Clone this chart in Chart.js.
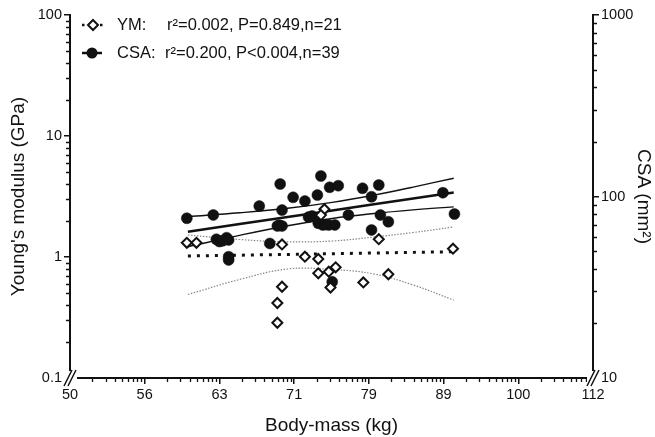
<!DOCTYPE html>
<html>
<head>
<meta charset="utf-8">
<script src="https://cdn.jsdelivr.net/npm/chart.js@4"></script>
<style>
  html, body { margin: 0; padding: 0; background: #fff; }
  canvas { display: block; }
</style>
</head>
<body>
<canvas id="chart" width="655" height="437"></canvas>
<script>
// axis ticks (body mass axis is log2, 1/6 octave per step)
const xTicks = [50, 56.12, 63, 70.71, 79.37, 89.09, 100, 112.25];
const xTickLabels = ['50', '56', '63', '71', '79', '89', '100', '112'];
const ymTicks = [0.1, 1, 10, 100];
const csaTicks = [10, 100, 1000];

// Young's modulus points (open diamonds)
const ymMass = [59.9, 60.8, 69.4, 68.9, 68.9, 69.4, 71.9, 73.4, 73.4, 74.6, 75.4, 74.8, 74.1, 73.7, 78.7, 80.6, 81.8, 90.4];
const ymValues = [1.31, 1.31, 1.27, 0.417, 0.286, 0.568, 1.006, 0.963, 0.733, 0.756, 0.822, 0.56, 2.48, 2.22, 0.616, 1.403, 0.72, 1.171];

// CSA points (filled circles)
const csaMass = [59.9, 62.4, 67.0, 62.7, 63.0, 63.7, 63.9, 63.9, 63.9, 68.1, 69.2, 69.4, 68.9, 69.4, 70.6, 71.9, 73.3, 73.7, 72.7, 73.4,
                 73.9, 74.6, 75.3, 74.7, 75.7, 75.0, 76.9, 78.6, 79.7, 80.6, 80.8, 81.8, 79.7, 89.0, 90.6, 63.3, 74.2, 69.1, 72.3];
const csaValues = [75.9, 79.1, 88.6, 58.1, 56.5, 59.3, 57.6, 46.6, 44.7, 55.1, 117.2, 84.2, 68.8, 68.8, 99.0, 94.4, 101.9, 129.7, 78.1, 71.2,
                   69.7, 69.7, 69.7, 112.4, 114.7, 33.9, 79.1, 111.0, 99.7, 115.7, 79.1, 72.6, 65.4, 104.9, 80.1, 57.0, 70.0, 69.5, 77.0];

// regression lines with 95% bands
const fitMass = [60, 65, 70, 75, 80, 85, 90.5];
const csaFit = [63.9, 70.5, 77.1, 83.8, 90.6, 97.5, 105.2];
const csaUpper = [77.4, 81.3, 86.1, 92.8, 101.8, 112.7, 126.1];
const csaLower = [52.9, 61.1, 69.0, 75.7, 80.6, 84.4, 87.7];
const ymFit = [1.02, 1.035, 1.05, 1.065, 1.079, 1.092, 1.105];
const ymUpper = [1.52, 1.395, 1.335, 1.356, 1.463, 1.594, 1.77];
const ymLower = [0.49, 0.652, 0.796, 0.788, 0.724, 0.587, 0.44];

const FONT = "'Liberation Sans', Arial, sans-serif";
const INK = '#111';

const pairs = (xs, ys) => xs.map((x, i) => ({ x: x, y: ys[i] }));

function lineSet(values, axis, style) {
    return Object.assign({
        type: 'scatter',
        data: pairs(fitMass, values),
        yAxisID: axis,
        showLine: true,
        pointRadius: 0,
        borderColor: INK,
        fill: false,
        tension: 0.4
    }, style);
}

// short log-style ticks between the labelled ones
const minorTicks = {
    id: 'minorTicks',
    afterDraw(chart) {
        const { ctx } = chart;
        const { x, y, y2 } = chart.scales;
        ctx.save();
        ctx.strokeStyle = INK;
        ctx.lineWidth = 1.3;
        ctx.beginPath();
        for (let i = 0; i < xTicks.length - 1; i++) {
            const a = xTicks[i], b = xTicks[i + 1];
            for (let k = 2; k <= 9; k++) {
                const px = Math.round(x.getPixelForValue(a * Math.pow(b / a, Math.log10(k)))) + 0.5;
                ctx.moveTo(px, x.top);
                ctx.lineTo(px, x.top + 4);
            }
        }
        [0.1, 1, 10].forEach(d => {
            for (let k = 2; k <= 9; k++) {
                const py = Math.round(y.getPixelForValue(d * k)) + 0.5;
                ctx.moveTo(y.right, py);
                ctx.lineTo(y.right - 4, py);
            }
        });
        [10, 100].forEach(d => {
            for (let k = 2; k <= 9; k++) {
                const py = Math.round(y2.getPixelForValue(d * k)) + 0.5;
                ctx.moveTo(y2.left, py);
                ctx.lineTo(y2.left + 4, py);
            }
        });
        ctx.stroke();
        ctx.restore();
    }
};

// "//" breaks at both bottom corners
const axisBreaks = {
    id: 'axisBreaks',
    afterDraw(chart) {
        const { ctx, chartArea: ca } = chart;
        ctx.save();
        [ca.left, ca.right].forEach(cx => {
            const cy = ca.bottom;
            ctx.fillStyle = '#fff';
            ctx.fillRect(cx - 6, cy - 7, 13, 15);
            ctx.strokeStyle = INK;
            ctx.lineWidth = 1.5;
            ctx.beginPath();
            ctx.moveTo(cx - 6, cy + 8); ctx.lineTo(cx + 2, cy - 8);
            ctx.moveTo(cx - 2, cy + 8); ctx.lineTo(cx + 6, cy - 8);
            ctx.stroke();
        });
        ctx.restore();
    }
};

const legendBox = {
    id: 'legendBox',
    afterDraw(chart) {
        const { ctx } = chart;
        ctx.save();
        ctx.strokeStyle = INK;
        ctx.fillStyle = INK;
        // YM row
        let yy = 25;
        ctx.lineWidth = 2.5;
        ctx.setLineDash([2.5, 3.5]);
        ctx.beginPath();
        ctx.moveTo(82, yy); ctx.lineTo(103, yy);
        ctx.stroke();
        ctx.setLineDash([]);
        ctx.fillStyle = '#fff';
        ctx.lineWidth = 2;
        ctx.beginPath();
        ctx.moveTo(93, yy - 5); ctx.lineTo(98, yy); ctx.lineTo(93, yy + 5); ctx.lineTo(88, yy); ctx.closePath();
        ctx.fill(); ctx.stroke();
        // CSA row
        yy = 53;
        ctx.fillStyle = INK;
        ctx.lineWidth = 2.5;
        ctx.beginPath();
        ctx.moveTo(82, yy); ctx.lineTo(102, yy);
        ctx.stroke();
        ctx.beginPath();
        ctx.arc(92, yy, 5.5, 0, Math.PI * 2);
        ctx.fill();
        ctx.font = '16.5px ' + FONT;
        ctx.textBaseline = 'middle';
        ctx.fillText('YM:', 117, 25);
        ctx.fillText('r\u00b2=0.002, P=0.849,n=21', 167, 25);
        ctx.fillText('CSA:', 117, 53);
        ctx.fillText('r\u00b2=0.200, P<0.004,n=39', 165, 53);
        ctx.restore();
    }
};

const tickFont = { family: FONT, size: 14.5 };
const titleFont = { family: FONT, size: 19 };
const gridStyle = { drawOnChartArea: false, drawTicks: true, tickLength: 6, color: INK, lineWidth: 1.5 };
const borderStyle = { color: INK, width: 2 };

new Chart(document.getElementById('chart'), {
    type: 'scatter',
    data: {
        datasets: [
            {
                label: 'YM',
                data: pairs(ymMass, ymValues),
                yAxisID: 'y',
                pointStyle: 'rectRot',
                pointRadius: 5,
                pointBorderWidth: 2,
                pointBorderColor: INK,
                pointBackgroundColor: '#fff'
            },
            {
                label: 'CSA',
                data: pairs(csaMass, csaValues),
                yAxisID: 'y2',
                pointStyle: 'circle',
                pointRadius: 5.5,
                pointBorderWidth: 0.5,
                pointBorderColor: INK,
                pointBackgroundColor: INK
            },
            lineSet(csaFit, 'y2', { borderWidth: 2.5, tension: 0 }),
            lineSet(csaUpper, 'y2', { borderWidth: 1.4 }),
            lineSet(csaLower, 'y2', { borderWidth: 1.4 }),
            lineSet(ymFit, 'y', { borderWidth: 3, borderDash: [3, 6], tension: 0 }),
            lineSet(ymUpper, 'y', { borderWidth: 1.2, borderDash: [1.5, 1.5], borderColor: '#888' }),
            lineSet(ymLower, 'y', { borderWidth: 1.2, borderDash: [1.5, 1.5], borderColor: '#888' })
        ]
    },
    options: {
        responsive: false,
        animation: false,
        devicePixelRatio: 1,
        layout: { padding: { top: 15 } },
        plugins: { legend: { display: false }, tooltip: { enabled: false } },
        scales: {
            x: {
                type: 'logarithmic',
                min: 50,
                max: 112.25,
                afterBuildTicks: s => { s.ticks = xTicks.map(v => ({ value: v })); },
                afterFit: s => { s.height = 59; },
                ticks: { callback: (v, i) => xTickLabels[i], autoSkip: false, maxRotation: 0, color: INK, font: tickFont, padding: 2 },
                grid: gridStyle,
                border: borderStyle,
                title: { display: true, text: 'Body-mass (kg)', color: INK, font: titleFont, padding: { top: 4, bottom: 0 } }
            },
            y: {
                type: 'logarithmic',
                position: 'left',
                min: 0.1,
                max: 100,
                afterBuildTicks: s => { s.ticks = ymTicks.map(v => ({ value: v })); },
                afterFit: s => { s.width = 70; },
                ticks: { callback: v => String(v), color: INK, font: tickFont, padding: 2 },
                grid: gridStyle,
                border: borderStyle,
                title: { display: true, text: "Young's modulus (GPa)", color: INK, font: titleFont, padding: { top: 7, bottom: 0 } }
            },
            y2: {
                type: 'logarithmic',
                position: 'right',
                min: 10,
                max: 1000,
                afterBuildTicks: s => { s.ticks = csaTicks.map(v => ({ value: v })); },
                afterFit: s => { s.width = 62; },
                ticks: { callback: v => String(v), color: INK, font: tickFont, padding: 2 },
                grid: gridStyle,
                border: borderStyle,
                title: { display: true, text: 'CSA (mm\u00b2)', color: INK, font: titleFont, padding: { top: 0, bottom: 0 } }
            }
        }
    },
    plugins: [minorTicks, axisBreaks, legendBox]
});
</script>
</body>
</html>
